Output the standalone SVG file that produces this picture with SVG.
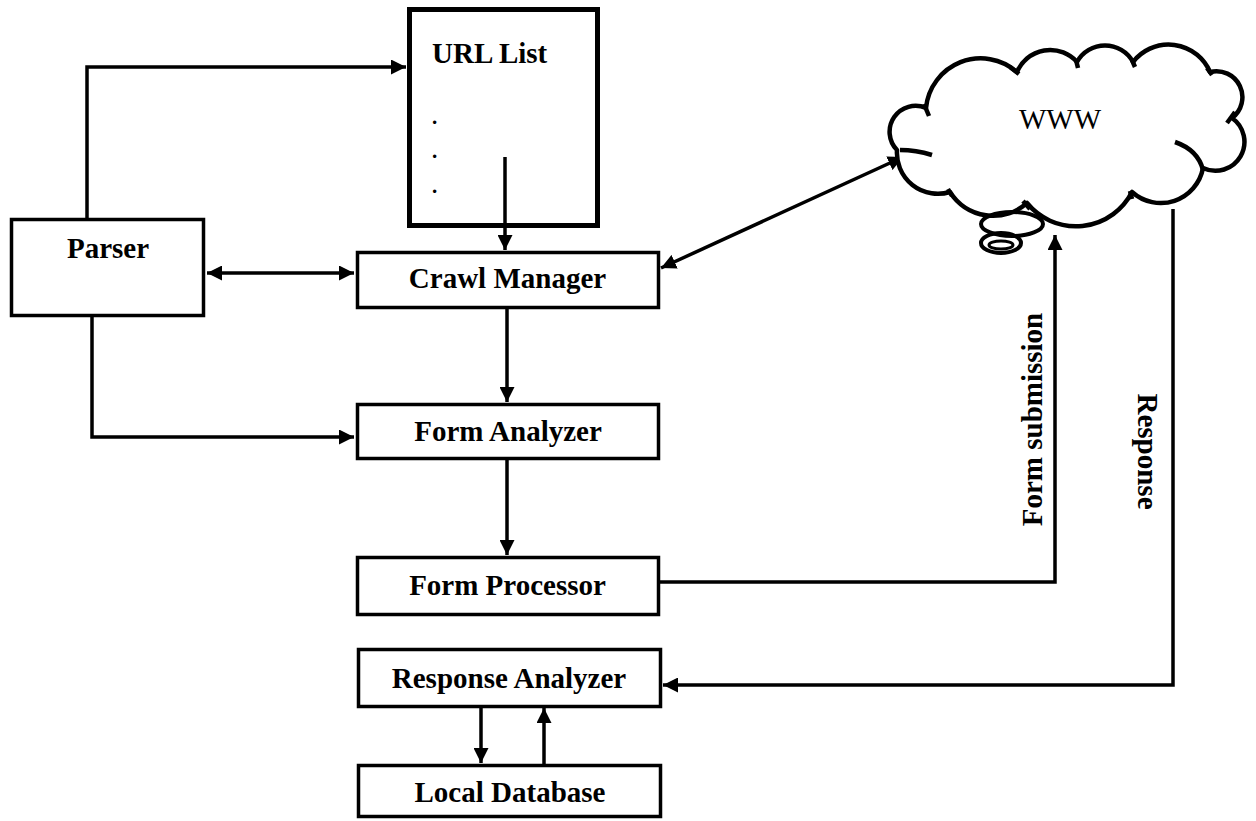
<svg xmlns="http://www.w3.org/2000/svg" width="1256" height="821" viewBox="0 0 1256 821">
<style>
.box{fill:#fff;stroke:#000;stroke-width:3.5}
.lbl{font-family:"Liberation Serif","Times New Roman",serif;font-weight:bold;font-size:29px;fill:#000}
.reg{font-family:"Liberation Serif","Times New Roman",serif;font-size:29px;fill:#000}
.con{fill:none;stroke:#000;stroke-width:3.5}
.cloud{fill:#fff;stroke:#000;stroke-width:4.5;stroke-linejoin:round}
.tick{fill:none;stroke:#000;stroke-width:4.5}
</style>
<defs>
<marker id="ah" viewBox="0 0 15 15" refX="15" refY="7.5" markerWidth="15" markerHeight="15" markerUnits="userSpaceOnUse" orient="auto-start-reverse">
<path d="M0,0 L15,7.5 L0,15 z" fill="#000"/>
</marker>
</defs>
<rect width="1256" height="821" fill="#fff"/>

<g id="connectors">
<path class="con" d="M87 218 V67 H406" marker-end="url(#ah)"/>
<path class="con" d="M505 157 V250" marker-end="url(#ah)"/>
<path class="con" d="M207 273 H354" marker-start="url(#ah)" marker-end="url(#ah)"/>
<path class="con" d="M92 316 V437 H354" marker-end="url(#ah)"/>
<path class="con" d="M507 308 V402" marker-end="url(#ah)"/>
<path class="con" d="M507 459 V555" marker-end="url(#ah)"/>
<path class="con" d="M661 268 L903 157" marker-start="url(#ah)" marker-end="url(#ah)"/>
<path class="con" d="M659 582 H1055 V235" marker-end="url(#ah)"/>
<path class="con" d="M1173 209 V685 H663" marker-end="url(#ah)"/>
<path class="con" d="M481 707 V763" marker-end="url(#ah)"/>
<path class="con" d="M544 764 V708" marker-end="url(#ah)"/>
<text class="lbl" transform="rotate(-90 1042 419.5)" x="1042" y="419.5" text-anchor="middle">Form submission</text>
<text class="lbl" transform="rotate(90 1138 451.5)" x="1138" y="451.5" text-anchor="middle">Response</text>
</g>

<g id="url-list">
<rect x="409.5" y="9.5" width="188" height="216" fill="#fff" stroke="#000" stroke-width="5"/>
<text class="lbl" x="432" y="63">URL List</text>
<text class="reg" x="431" y="124" font-size="22">.</text>
<text class="reg" x="431" y="158" font-size="22">.</text>
<text class="reg" x="431" y="193" font-size="22">.</text>
</g>
<path class="con" d="M505 157 V226"/>

<g id="parser">
<rect class="box" x="11.5" y="219.5" width="192" height="96"/>
<text class="lbl" x="108" y="258" text-anchor="middle">Parser</text>
</g>

<g id="crawl-manager">
<rect class="box" x="357.5" y="252.5" width="301" height="55"/>
<text class="lbl" x="507.5" y="288" text-anchor="middle">Crawl Manager</text>
</g>

<g id="form-analyzer">
<rect class="box" x="357.5" y="404.5" width="301" height="54"/>
<text class="lbl" x="508" y="441" text-anchor="middle">Form Analyzer</text>
</g>

<g id="form-processor">
<rect class="box" x="357.5" y="557.5" width="301" height="57"/>
<text class="lbl" x="507.5" y="595" text-anchor="middle">Form Processor</text>
</g>

<g id="response-analyzer">
<rect class="box" x="358.5" y="649.5" width="302" height="57"/>
<text class="lbl" x="509" y="688" text-anchor="middle">Response Analyzer</text>
</g>

<g id="local-database">
<rect class="box" x="358.5" y="765.5" width="302" height="51"/>
<text class="lbl" x="510" y="802" text-anchor="middle">Local Database</text>
</g>

<g id="www">
<path class="cloud" d="M897 150 A26 26 0 0 1 926 108 A55 55 0 0 1 1017 72 A36 36 0 0 1 1077 62 A32 32 0 0 1 1133 62 A45 45 0 0 1 1210 72 A26 26 0 0 1 1232 118 A29 29 0 0 1 1203 168 A43 43 0 0 1 1132 192 A63 63 0 0 1 1027 203 A51 51 0 0 1 950 192 A41 41 0 0 1 897 150 Z"/>
<path class="tick" d="M900 150 Q916 150 932 155"/>
<path class="tick" d="M924 104 L929 116"/>
<path class="tick" d="M1010 67 L1019 74"/>
<path class="tick" d="M1076 60 L1078 68"/>
<path class="tick" d="M1132 60 L1135 67"/>
<path class="tick" d="M1207 68 L1212 75"/>
<path class="tick" d="M1235 112 L1227 123"/>
<path class="tick" d="M1175 142 Q1198 150 1203 170"/>
<path class="tick" d="M1130 191 L1132 199"/>
<path class="tick" d="M1023 201 L1030 209"/>
<path class="tick" d="M948 189 L952 196"/>
<ellipse cx="1012" cy="224" rx="31" ry="12" fill="none" stroke="#000" stroke-width="4"/>
<ellipse cx="1001" cy="243" rx="20" ry="10" fill="none" stroke="#000" stroke-width="4"/>
<ellipse cx="1001" cy="245" rx="12" ry="4" fill="none" stroke="#000" stroke-width="3"/>
<text class="reg" x="1060" y="129" text-anchor="middle" font-size="28">WWW</text>
</g>
</svg>
